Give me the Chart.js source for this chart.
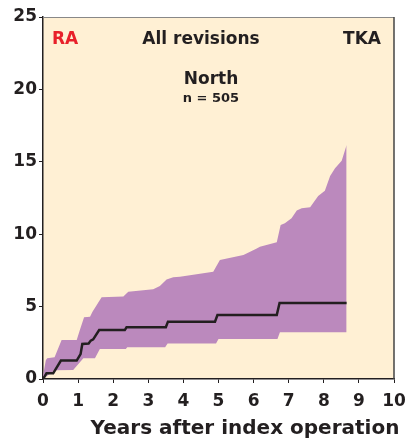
<!DOCTYPE html>
<html>
<head>
<meta charset="utf-8">
<script src="https://cdn.jsdelivr.net/npm/chart.js@4/dist/chart.umd.min.js"></script>
<style>
html,body{margin:0;padding:0;background:#fff;}
#wrap{width:406px;height:439px;position:relative;}
</style>
</head>
<body>
<div id="wrap"><canvas id="c"></canvas></div>
<script>
// Cumulative revision rate (%) – step curve
const stepX = [0, 0.1, 0.29, 0.51, 0.96, 1.07, 1.12, 1.3, 1.36, 1.43, 1.6, 2.33, 2.38, 3.5, 3.56, 4.9, 4.97, 6.66, 6.74, 8.65];
const stepY = [0, 0.39, 0.39, 1.27, 1.27, 1.72, 2.42, 2.45, 2.65, 2.74, 3.38, 3.38, 3.57, 3.57, 3.96, 3.96, 4.42, 4.42, 5.25, 5.25];
// Upper confidence limit
const upperX = [0, 0.08, 0.12, 0.33, 0.53, 0.96, 1.05, 1.17, 1.34, 1.41, 1.67, 2.29, 2.43, 3.14, 3.33, 3.52, 3.71, 3.9, 4.85, 5.04, 5.71, 5.9, 6.09, 6.18, 6.66, 6.77, 6.89, 7.08, 7.23, 7.37, 7.61, 7.84, 8.03, 8.18, 8.32, 8.51, 8.65];
const upperY = [0.2, 1.3, 1.43, 1.5, 2.69, 2.69, 3.38, 4.26, 4.3, 4.65, 5.64, 5.7, 6.03, 6.19, 6.42, 6.88, 7.02, 7.07, 7.41, 8.22, 8.56, 8.79, 9.02, 9.14, 9.45, 10.64, 10.75, 11.1, 11.63, 11.79, 11.86, 12.64, 13.0, 14.02, 14.55, 15.08, 16.16];
// Lower confidence limit
const lowerX = [0, 0.33, 0.86, 1.15, 1.48, 1.62, 2.36, 2.4, 3.48, 3.55, 4.93, 5.0, 6.68, 6.75, 8.65];
const lowerY = [0, 0.6, 0.62, 1.43, 1.43, 2.07, 2.07, 2.19, 2.19, 2.46, 2.46, 2.76, 2.76, 3.22, 3.22];
// Axis ticks
const xTicks = [0, 1, 2, 3, 4, 5, 6, 7, 8, 9, 10];
const yTicks = [0, 5, 10, 15, 20, 25];
// Texts
const xTitle = "Years after index operation";
const labelLeft = "RA";
const labelMid = "All revisions";
const labelRight = "TKA";
const groupName = "North";
const groupN = "n = 505";

const pts = (xs, ys) => xs.map((x, i) => ({x: x, y: ys[i]}));

const DARK = '#231F20';
const FONT = '"DejaVu Sans", sans-serif';

const decor = {
  id: 'decor',
  beforeDraw(chart) {
    const {ctx, chartArea: a} = chart;
    ctx.save();
    ctx.fillStyle = '#FFF0D4';
    ctx.fillRect(a.left, a.top, a.right - a.left, a.bottom - a.top);
    ctx.restore();
  },
  afterDraw(chart) {
    const {ctx, chartArea: a} = chart;
    ctx.save();
    ctx.strokeStyle = '#888888';
    ctx.lineWidth = 1;
    ctx.beginPath();
    ctx.moveTo(a.left, a.top + 0.5);
    ctx.lineTo(a.right, a.top + 0.5);
    ctx.stroke();
    ctx.strokeStyle = '#444444';
    ctx.lineWidth = 1.5;
    ctx.beginPath();
    ctx.moveTo(a.right, a.top);
    ctx.lineTo(a.right, a.bottom);
    ctx.stroke();

    ctx.textBaseline = 'alphabetic';
    ctx.font = 'bold 17px ' + FONT;
    ctx.fillStyle = '#E8202A';
    ctx.textAlign = 'left';
    ctx.fillText(labelLeft, 52, 44);
    ctx.fillStyle = DARK;
    ctx.textAlign = 'center';
    ctx.fillText(labelMid, 201, 44);
    ctx.textAlign = 'right';
    ctx.fillText(labelRight, 381, 44);
    ctx.textAlign = 'center';
    ctx.fillText(groupName, 211, 84);
    ctx.font = 'bold 13px ' + FONT;
    ctx.fillText(groupN, 211, 102);
    ctx.font = 'bold 20px ' + FONT;
    ctx.fillText(xTitle, 245, 434);
    ctx.restore();
  }
};

new Chart(document.getElementById('c'), {
  type: 'line',
  data: {
    datasets: [
      {
        label: 'Revision rate',
        data: pts(stepX, stepY),
        borderColor: DARK,
        borderWidth: 2.5,
        pointRadius: 0,
        fill: false,
        tension: 0
      },
      {
        label: 'Upper',
        data: pts(upperX, upperY),
        borderWidth: 0,
        borderColor: 'rgba(0,0,0,0)',
        backgroundColor: '#BB89BD',
        pointRadius: 0,
        fill: '+1',
        tension: 0
      },
      {
        label: 'Lower',
        data: pts(lowerX, lowerY),
        borderWidth: 0,
        borderColor: 'rgba(0,0,0,0)',
        pointRadius: 0,
        fill: false,
        tension: 0
      }
    ]
  },
  options: {
    responsive: true,
    maintainAspectRatio: false,
    animation: false,
    layout: {padding: {top: 17, right: 12, left: 0, bottom: 0}},
    plugins: {legend: {display: false}, tooltip: {enabled: false}},
    scales: {
      x: {
        type: 'linear',
        min: 0, max: 10,
        afterBuildTicks(s) { s.ticks = xTicks.map(v => ({value: v})); },
        afterFit(s) { s.height = 60; s.paddingLeft = 0; s.paddingRight = 0; },
        grid: {display: true, drawOnChartArea: false, drawTicks: true, tickLength: 4, color: DARK, lineWidth: 1},
        border: {display: true, color: DARK, width: 1.5},
        ticks: {color: DARK, font: {family: FONT, weight: 'bold', size: 17}, padding: 8, maxRotation: 0, autoSkip: false}
      },
      y: {
        min: 0, max: 25,
        afterBuildTicks(s) { s.ticks = yTicks.map(v => ({value: v})); },
        afterFit(s) { s.width = 43; s.paddingTop = 0; s.paddingBottom = 0; },
        grid: {display: true, drawOnChartArea: false, drawTicks: true, tickLength: 4, color: DARK, lineWidth: 1},
        border: {display: true, color: DARK, width: 1.5},
        ticks: {color: DARK, font: {family: FONT, weight: 'bold', size: 17}, padding: 2}
      }
    }
  },
  plugins: [decor]
});
</script>
</body>
</html>
